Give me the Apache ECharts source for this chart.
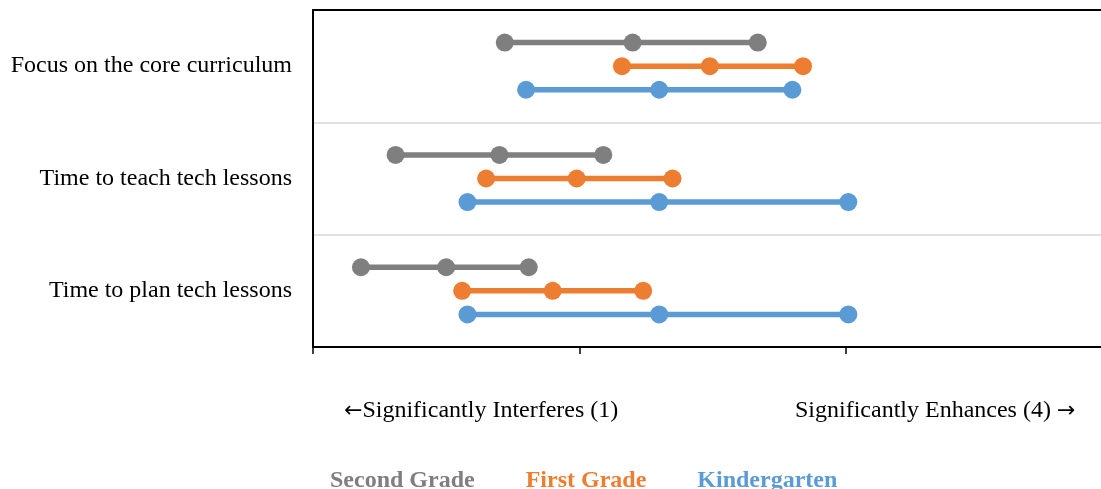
<!DOCTYPE html>
<html>
<head>
<meta charset="utf-8">
<script src="https://cdn.jsdelivr.net/npm/echarts@6/dist/echarts.min.js"></script>
<style>
  html, body { margin: 0; padding: 0; background: #fff; }
  #chart { width: 1101px; height: 489px; }
</style>
</head>
<body>
<div id="chart"></div>
<script>
// Survey items, top to bottom
const items = ['Focus on the core curriculum', 'Time to teach tech lessons', 'Time to plan tech lessons'];
// Grade groups in the order they are stacked within each item
const grades = ['Second Grade', 'First Grade', 'Kindergarten'];
const gradeColors = ['#7f7f7f', '#ed7d31', '#5b9bd5'];
// Low / middle / high rating for each grade, per item (scale 1–4)
const secondGrade = [
  [1.72, 2.20, 2.67],
  [1.31, 1.70, 2.09],
  [1.18, 1.50, 1.81]
];
const firstGrade = [
  [2.16, 2.49, 2.84],
  [1.65, 1.99, 2.35],
  [1.56, 1.90, 2.24]
];
const kindergarten = [
  [1.80, 2.30, 2.80],
  [1.58, 2.30, 3.01],
  [1.58, 2.30, 3.01]
];
const gradeValues = [secondGrade, firstGrade, kindergarten];
const axisEndLabels = ['Significantly Interferes (1)', 'Significantly Enhances (4) '];

const serif = '"Liberation Serif", "Times New Roman", serif';
const rowOffset = 0.21; // vertical spacing of grade rows inside one item band

const series = [];
grades.forEach((g, gi) => {
  items.forEach((it, ii) => {
    const y = ii + 0.5 + (gi - 1) * rowOffset;
    series.push({
      name: g,
      type: 'line',
      xAxisIndex: 0,
      yAxisIndex: 1,
      data: gradeValues[gi][ii].map(v => [v, y]),
      symbol: 'circle',
      symbolSize: 18,
      lineStyle: { width: 5.5, color: gradeColors[gi] },
      itemStyle: { color: gradeColors[gi] },
      emphasis: { disabled: true },
      animation: false
    });
  });
});

const arrowStyle = { fontFamily: '"DejaVu Sans", sans-serif', fontSize: 22, fill: '#000' };

const chart = echarts.init(document.getElementById('chart'));
chart.setOption({
  animation: false,
  grid: {
    left: 313, top: 10, width: 799, height: 337,
    outerBoundsMode: 'none',
    show: false
  },
  xAxis: [
    {
      type: 'value', min: 1, max: 4, interval: 1, position: 'bottom',
      axisLine: { show: true, onZero: false, lineStyle: { color: '#000', width: 2 } },
      axisTick: { show: true, inside: false, length: 7, lineStyle: { color: '#000', width: 1.5 } },
      axisLabel: { show: false },
      splitLine: { show: false },
      z: 5
    },
    {
      // plain frame line along the top edge
      type: 'value', min: 1, max: 4, interval: 1, position: 'top',
      axisLine: { show: true, onZero: false, lineStyle: { color: '#000', width: 2 } },
      axisTick: { show: false },
      axisLabel: { show: false },
      splitLine: { show: false },
      z: 5
    }
  ],
  yAxis: [
    {
      type: 'category', data: items, inverse: true,
      axisLine: { show: true, onZero: false, lineStyle: { color: '#000', width: 2 } },
      axisTick: { show: false },
      axisLabel: { fontFamily: serif, fontSize: 24, color: '#000', margin: 21, padding: [6, 0, 0, 0] },
      splitLine: { show: true, lineStyle: { color: '#d9d9d9', width: 1.5 } },
      z: 5
    },
    {
      type: 'value', min: 0, max: 3, inverse: true, show: false
    }
  ],
  legend: {
    data: grades.map((g, i) => ({ name: g, textStyle: { color: gradeColors[i] } })),
    icon: 'none', itemWidth: 0, itemHeight: 10, itemGap: 46,
    left: 320, top: 464,
    textStyle: { fontFamily: serif, fontSize: 24, fontWeight: 'bold' },
    selectedMode: false
  },
  graphic: [
    {
      type: 'text', x: 344, y: 411,
      style: {
        text: '{a|\u2190}{t|' + axisEndLabels[0] + '}',
        verticalAlign: 'middle',
        rich: {
          a: arrowStyle,
          t: { fontFamily: serif, fontSize: 24, fill: '#000' }
        }
      }
    },
    {
      type: 'text', x: 795, y: 411,
      style: {
        text: '{t|' + axisEndLabels[1] + '}{a|\u2192}',
        verticalAlign: 'middle',
        rich: {
          a: arrowStyle,
          t: { fontFamily: serif, fontSize: 24, fill: '#000' }
        }
      }
    }
  ],
  series: series
});
</script>
</body>
</html>
